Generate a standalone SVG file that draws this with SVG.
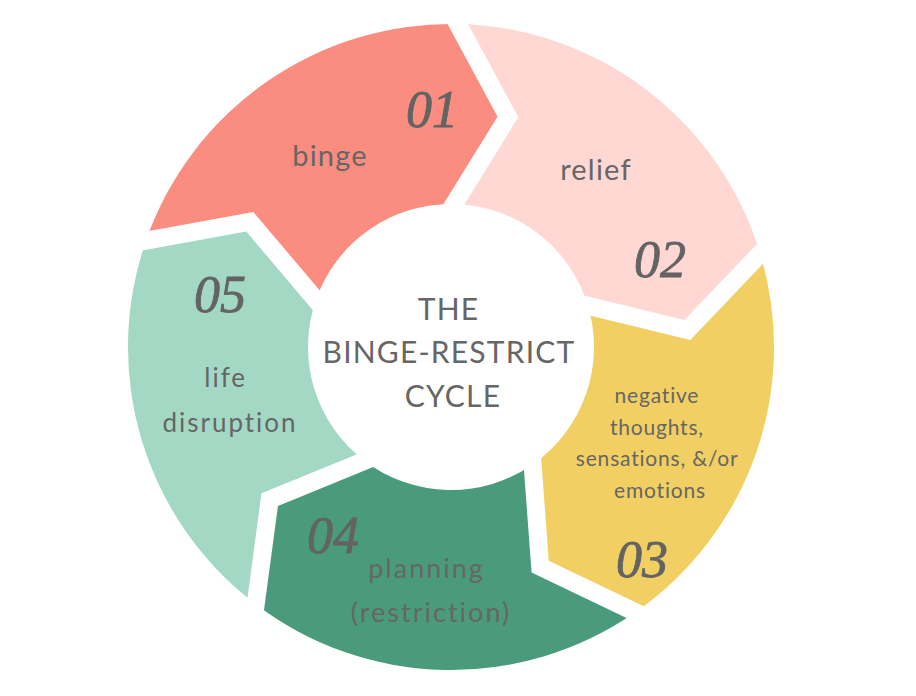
<svg xmlns="http://www.w3.org/2000/svg" xmlns:xlink="http://www.w3.org/1999/xlink" width="916" height="696" viewBox="0 0 916 696">
<style>
.lbl{font-family:Lato,"Noto Sans","Liberation Sans",sans-serif;fill:#666666;text-anchor:middle}
.num{font-family:"Liberation Serif","DejaVu Serif",serif;font-style:italic;fill:#636363;text-anchor:middle;font-size:52px;stroke:#636363;stroke-width:0.8px}
.ttl{font-family:Lato,"Noto Sans","Liberation Sans",sans-serif;fill:#666666;text-anchor:middle;font-size:30px;letter-spacing:1.2px}
</style>
<defs>
<path id="seg" d="M323,0 A323,323 0 0 1 99.81,307.19 L21.89,235.99 L44.19,136 A143,143 0 0 0 143,0 L231.2,52.1 Z"/>
<polyline id="cut" points="350.5,-15.6 231.2,52.1 116.5,-15.6"/>
<mask id="gaps" maskUnits="userSpaceOnUse" x="0" y="0" width="916" height="696">
<rect x="0" y="0" width="916" height="696" fill="#fff"/>
<g transform="translate(451,347)" fill="none" stroke="#000" stroke-width="18" stroke-linejoin="miter">
<use href="#cut" xlink:href="#cut" transform="rotate(-160.8)"/>
<use href="#cut" xlink:href="#cut" transform="rotate(-88.8)"/>
<use href="#cut" xlink:href="#cut" transform="rotate(-16.8)"/>
<use href="#cut" xlink:href="#cut" transform="rotate(55.2)"/>
<use href="#cut" xlink:href="#cut" transform="rotate(127.2)"/>
</g>
</mask>
</defs>
<rect width="916" height="696" fill="#ffffff"/>

<g id="node-binge">
<g mask="url(#gaps)"><use href="#seg" xlink:href="#seg" transform="translate(451,347) rotate(-160.8)" fill="#FA8D7F"/></g>
<text class="num" x="432" y="127">01</text>
<text class="lbl" x="330" y="166" font-size="29" letter-spacing="1.2">binge</text>
</g>

<g id="node-relief">
<g mask="url(#gaps)"><use href="#seg" xlink:href="#seg" transform="translate(451,347) rotate(-88.8)" fill="#FFD8D3"/></g>
<text class="lbl" x="596" y="180" font-size="29" letter-spacing="1.2">relief</text>
<text class="num" x="660" y="277">02</text>
</g>

<g id="node-negative">
<g mask="url(#gaps)"><use href="#seg" xlink:href="#seg" transform="translate(451,347) rotate(-16.8)" fill="#F1CF63"/></g>
<text class="lbl" font-size="21" letter-spacing="0.8">
<tspan x="660" y="403">negative</tspan>
<tspan x="660" y="434.5">thoughts,</tspan>
<tspan x="660" y="466">sensations, &amp;/or</tspan>
<tspan x="660" y="497.5">emotions</tspan>
</text>
<text class="num" x="642" y="577">03</text>
</g>

<g id="node-planning">
<g mask="url(#gaps)"><use href="#seg" xlink:href="#seg" transform="translate(451,347) rotate(55.2)" fill="#4A9A7C"/></g>
<text class="num" x="333" y="553">04</text>
<text class="lbl" font-size="27" letter-spacing="2">
<tspan x="431" y="578">planning</tspan>
<tspan x="431" y="622">(restriction)</tspan>
</text>
</g>

<g id="node-disruption">
<g mask="url(#gaps)"><use href="#seg" xlink:href="#seg" transform="translate(451,347) rotate(127.2)" fill="#A3D8C5"/></g>
<text class="num" x="220" y="312">05</text>
<text class="lbl" font-size="26" letter-spacing="2">
<tspan x="230" y="387">life</tspan>
<tspan x="230" y="432">disruption</tspan>
</text>
</g>

<g id="node-title">
<text class="ttl">
<tspan x="453" y="320">THE</tspan>
<tspan x="453" y="363">BINGE-RESTRICT</tspan>
<tspan x="453" y="407">CYCLE</tspan>
</text>
</g>
</svg>
